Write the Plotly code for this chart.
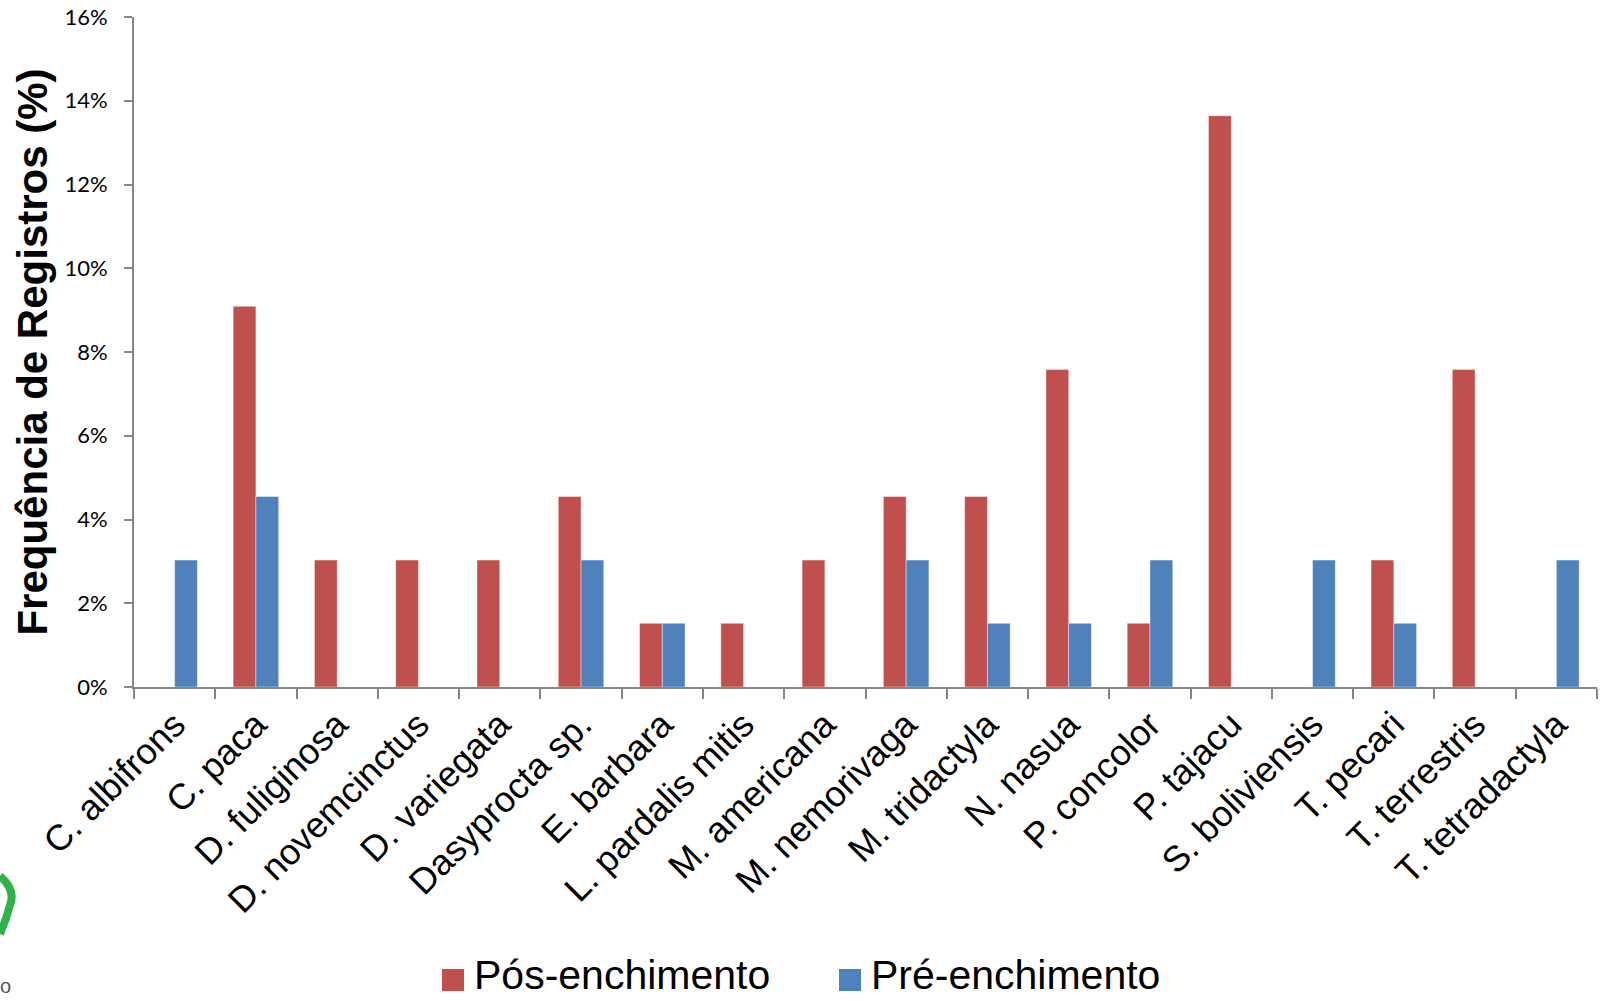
import plotly.graph_objects as go

species = ["C. albifrons", "C. paca", "D. fuliginosa", "D. novemcinctus", "D. variegata",
           "Dasyprocta sp.", "E. barbara", "L. pardalis mitis", "M. americana", "M. nemorivaga",
           "M. tridactyla", "N. nasua", "P. concolor", "P. tajacu", "S. boliviensis",
           "T. pecari", "T. terrestris", "T. tetradactyla"]
pos_enchimento = [0, 9.09, 3.03, 3.03, 3.03, 4.55, 1.52, 1.52, 3.03, 4.55,
                  4.55, 7.58, 1.52, 13.64, 0, 3.03, 7.58, 0]
pre_enchimento = [3.03, 4.55, 0, 0, 0, 3.03, 1.52, 0, 0, 3.03,
                  1.52, 1.52, 3.03, 0, 3.03, 1.52, 0, 3.03]
y_ticks = [0, 2, 4, 6, 8, 10, 12, 14, 16]
series_names = ["Pós-enchimento", "Pré-enchimento"]

RED = "#C0504D"
BLUE = "#4F81BD"
AXIS = "#868686"

W, H = 1600, 1001
L, R, T, B = 134, 3, 17, 314

fig = go.Figure()
fig.add_trace(go.Bar(x=species, y=pos_enchimento, name=series_names[0],
                     marker=dict(color=RED, line=dict(width=0.6, color="rgba(255,255,255,0.7)"))))
fig.add_trace(go.Bar(x=species, y=pre_enchimento, name=series_names[1],
                     marker=dict(color=BLUE, line=dict(width=0.6, color="rgba(255,255,255,0.7)"))))

fig.update_layout(
    width=W, height=H,
    paper_bgcolor="white", plot_bgcolor="white",
    margin=dict(l=L, r=R, t=T, b=B, autoexpand=False),
    barmode="group", bargap=0.44, bargroupgap=0,
    font=dict(family="Liberation Sans, Arial", color="black"),
    showlegend=False,
)


def px(xp):
    return (xp - L) / (W - L - R)


def py(yp):
    return (H - B - yp) / (H - T - B)


# custom legend (large square keys)
legend_keys = [(442, RED, series_names[0]), (839, BLUE, series_names[1])]
for x0, col, name in legend_keys:
    fig.add_shape(type="rect", xref="paper", yref="paper",
                  x0=px(x0), x1=px(x0 + 22), y0=py(991), y1=py(969),
                  fillcolor=col, line=dict(width=0))
    fig.add_annotation(x=px(x0 + 30), y=py(1000), xref="paper", yref="paper", text=name,
                       showarrow=False, xanchor="left", yanchor="bottom",
                       font=dict(size=41, color="black", family="Liberation Sans, Arial"))

# partial logo artifact at the left edge
path = (f"M {px(0)},{py(876)} Q {px(16)},{py(890)} {px(10)},{py(905)} "
        f"Q {px(6)},{py(920)} {px(0)},{py(934)}")
fig.add_shape(type="path", path=path, xref="paper", yref="paper",
              line=dict(color="#2DB34A", width=8), layer="above")
fig.add_annotation(x=px(-2), y=py(986), xref="paper", yref="paper", text="o",
                   showarrow=False, xanchor="left", yanchor="middle",
                   font=dict(size=20, color="#555555", family="Liberation Sans, Arial"))

fig.update_xaxes(
    type="category", showline=True, linecolor=AXIS, linewidth=2,
    ticks="outside", tickson="boundaries", ticklen=10, tickcolor=AXIS, tickwidth=2,
    tickangle=-45, tickfont=dict(size=36, family="Liberation Sans, Arial", color="black"),
    showgrid=False, zeroline=False,
)
fig.update_yaxes(
    range=[0, 16], tickvals=y_ticks, ticktext=[f"{v}%" for v in y_ticks],
    showline=True, linecolor=AXIS, linewidth=2,
    ticks="outside", ticklen=8, tickcolor=AXIS, tickwidth=2, ticklabelstandoff=12,
    tickfont=dict(size=22, family="Lato", color="black"),
    showgrid=False, zeroline=False,
    title=dict(text="<b>Frequência de Registros (%)</b>",
               font=dict(size=42, family="Liberation Sans, Arial", color="black"),
               standoff=4),
)

fig.write_html("out.html", config={"displayModeBar": False},
               post_script="document.body.style.margin='0';document.body.style.overflow='hidden';")
